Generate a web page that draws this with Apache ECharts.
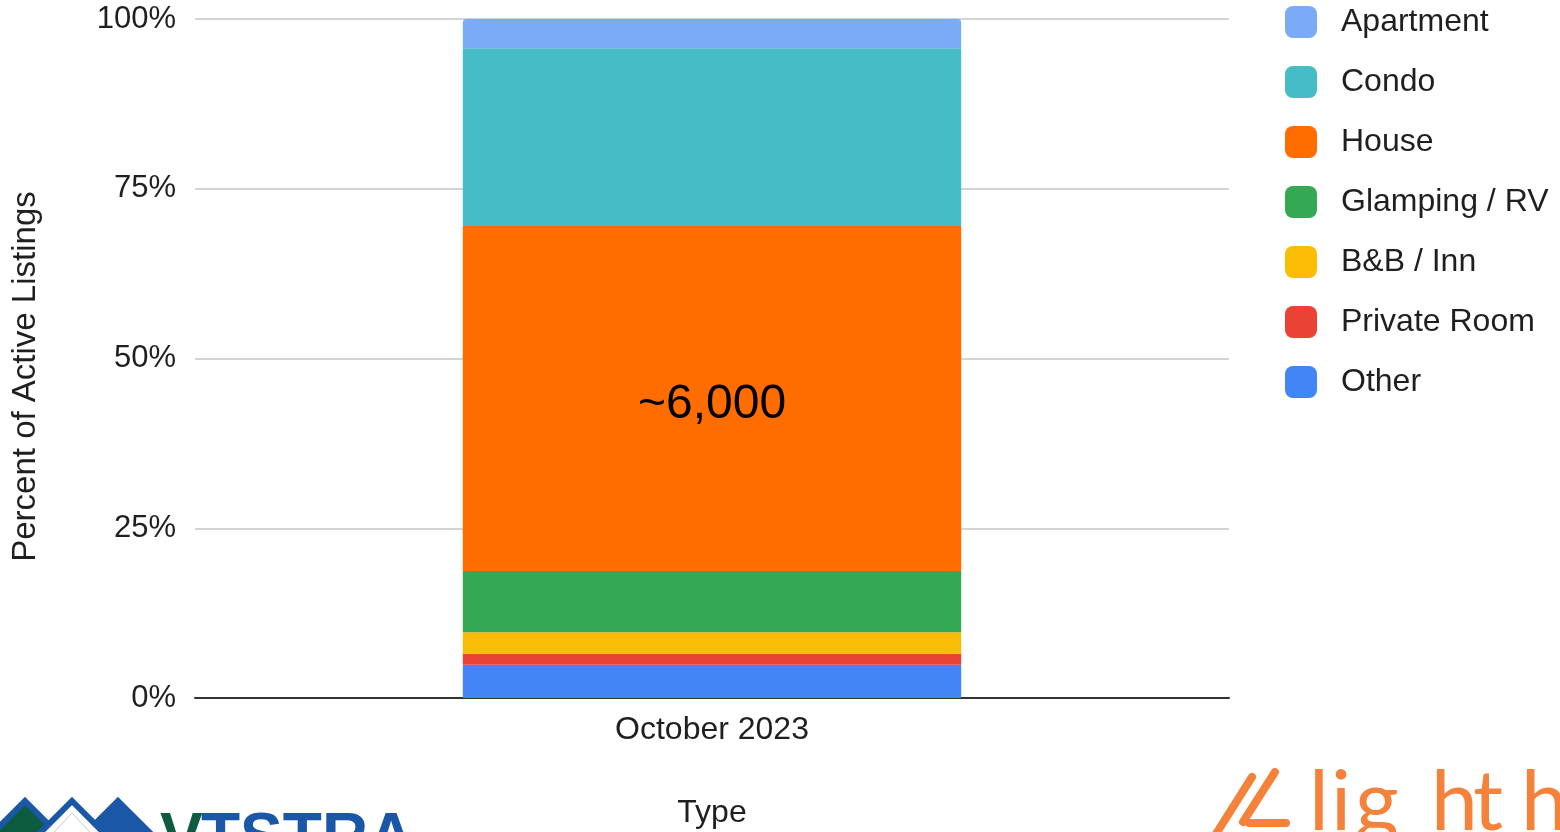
<!DOCTYPE html>
<html>
<head>
<meta charset="utf-8">
<title>Active Listings by Type</title>
<script src="https://cdn.jsdelivr.net/npm/echarts@6/dist/echarts.min.js"></script>
<style>
  html, body { margin: 0; padding: 0; background: #ffffff; }
  #chart { width: 1560px; height: 832px; }
</style>
</head>
<body>
<div id="chart"></div>
<script>
// Share of active listings by property type (percent of total)
const categories = ['October 2023'];
const seriesNames = ['Other', 'Private Room', 'B&B / Inn', 'Glamping / RV', 'House', 'Condo', 'Apartment'];
const otherShare = [4.9];
const privateRoomShare = [1.6];
const bnbShare = [3.2];
const glampingShare = [9.0];
const houseShare = [50.8];
const condoShare = [26.2];
const apartmentShare = [4.3];
const houseCountLabel = '~6,000';
const legendOrder = ['Apartment', 'Condo', 'House', 'Glamping / RV', 'B&B / Inn', 'Private Room', 'Other'];
const yTicks = [0, 25, 50, 75, 100];

const colors = {
  'Other': '#4285f4',
  'Private Room': '#ea4335',
  'B&B / Inn': '#fbbc04',
  'Glamping / RV': '#34a853',
  'House': '#ff6d01',
  'Condo': '#46bdc6',
  'Apartment': '#7baaf7'
};
const values = {
  'Other': otherShare,
  'Private Room': privateRoomShare,
  'B&B / Inn': bnbShare,
  'Glamping / RV': glampingShare,
  'House': houseShare,
  'Condo': condoShare,
  'Apartment': apartmentShare
};

const FONT = '"Liberation Sans", Arial, Helvetica, sans-serif';
const TEXT = '#1f1f1f';

const series = seriesNames.map((name) => {
  const s = {
    name: name,
    type: 'bar',
    stack: 'total',
    barWidth: '48.2%',
    data: values[name],
    itemStyle: { color: colors[name] },
    emphasis: { disabled: true }
  };
  if (name === 'Apartment') {
    s.itemStyle.borderRadius = [4, 4, 0, 0];
  }
  if (name === 'House') {
    s.label = {
      show: true,
      position: 'inside',
      formatter: () => houseCountLabel,
      fontFamily: FONT,
      fontSize: 48,
      color: '#000000',
      offset: [0, 6]
    };
  }
  return s;
});

// Partner marks along the bottom edge
const ORANGE = '#f5823a';
const houseOutline = (cx, fill) => ({
  type: 'polygon',
  shape: { points: [[cx, 801], [cx + 31, 832], [cx, 863], [cx - 31, 832]] },
  style: { fill: fill, stroke: '#1a57a6', lineWidth: 6 },
  silent: true
});
const brandLetter = (ch, x) => ({
  type: 'text',
  style: {
    x: x, y: 803,
    text: ch,
    font: '400 84px Lato, "Open Sans", sans-serif',
    fill: ORANGE,
    textVerticalAlign: 'middle'
  },
  silent: true
});

const graphics = [
  houseOutline(25, '#0d5c3f'),
  houseOutline(118, '#1a57a6'),
  houseOutline(72, '#ffffff'),
  {
    type: 'polygon',
    shape: { points: [[72, 813], [90, 832], [72, 851], [54, 832]] },
    style: { fill: '#ffffff', stroke: '#c8c8c8', lineWidth: 1 },
    silent: true
  },
  {
    type: 'text',
    style: {
      x: 160, y: 840,
      text: 'V',
      font: 'bold 64px ' + FONT,
      fill: '#0d5c3f',
      textVerticalAlign: 'middle'
    },
    silent: true
  },
  {
    type: 'text',
    style: {
      x: 201, y: 840,
      text: 'TSTRA',
      font: 'bold 64px ' + FONT,
      fill: '#1a57a6',
      textVerticalAlign: 'middle'
    },
    silent: true
  },
  {
    type: 'line',
    shape: { x1: 1216, y1: 834, x2: 1252, y2: 777 },
    style: { stroke: ORANGE, lineWidth: 8, lineCap: 'round' },
    silent: true
  },
  {
    type: 'line',
    shape: { x1: 1243, y1: 822, x2: 1275, y2: 772 },
    style: { stroke: ORANGE, lineWidth: 8, lineCap: 'round' },
    silent: true
  },
  {
    type: 'line',
    shape: { x1: 1249, y1: 823, x2: 1286, y2: 823 },
    style: { stroke: ORANGE, lineWidth: 8, lineCap: 'round' },
    silent: true
  },
  brandLetter('l', 1309),
  brandLetter('i', 1331),
  brandLetter('g', 1355),
  brandLetter('h', 1431),
  brandLetter('t', 1473),
  brandLetter('h', 1521)
];

const chart = echarts.init(document.getElementById('chart'), null, { renderer: 'canvas' });
chart.setOption({
  animation: false,
  backgroundColor: '#ffffff',
  textStyle: { fontFamily: FONT },
  grid: { left: 195, right: 331, top: 19, bottom: 134, containLabel: false, outerBoundsMode: 'none' },
  legend: {
    data: legendOrder,
    orient: 'vertical',
    left: 1280,
    top: 1,
    icon: 'roundRect',
    itemWidth: 32,
    itemHeight: 32,
    itemGap: 28,
    selectedMode: false,
    textStyle: {
      fontFamily: FONT,
      fontSize: 32,
      color: TEXT,
      padding: [0, 0, 0, 19]
    }
  },
  xAxis: {
    type: 'category',
    data: categories,
    name: 'Type',
    nameLocation: 'middle',
    nameGap: 99,
    nameTextStyle: { fontFamily: FONT, fontSize: 32, color: TEXT },
    axisLine: { show: true, lineStyle: { color: '#333333', width: 2 } },
    axisTick: { show: false },
    axisLabel: { fontFamily: FONT, fontSize: 32, color: TEXT, margin: 16 }
  },
  yAxis: {
    type: 'value',
    min: yTicks[0],
    max: yTicks[yTicks.length - 1],
    interval: yTicks[1] - yTicks[0],
    name: 'Percent of Active Listings',
    nameLocation: 'middle',
    nameGap: 153,
    nameTextStyle: { fontFamily: FONT, fontSize: 33, color: TEXT, padding: [0, 36, 0, 0] },
    axisLine: { show: false },
    axisTick: { show: false },
    axisLabel: { fontFamily: FONT, fontSize: 31, color: TEXT, margin: 19, formatter: '{value}%' },
    splitLine: { lineStyle: { color: '#d4d4d4', width: 2 } }
  },
  series: series,
  graphic: graphics
});
</script>
</body>
</html>
